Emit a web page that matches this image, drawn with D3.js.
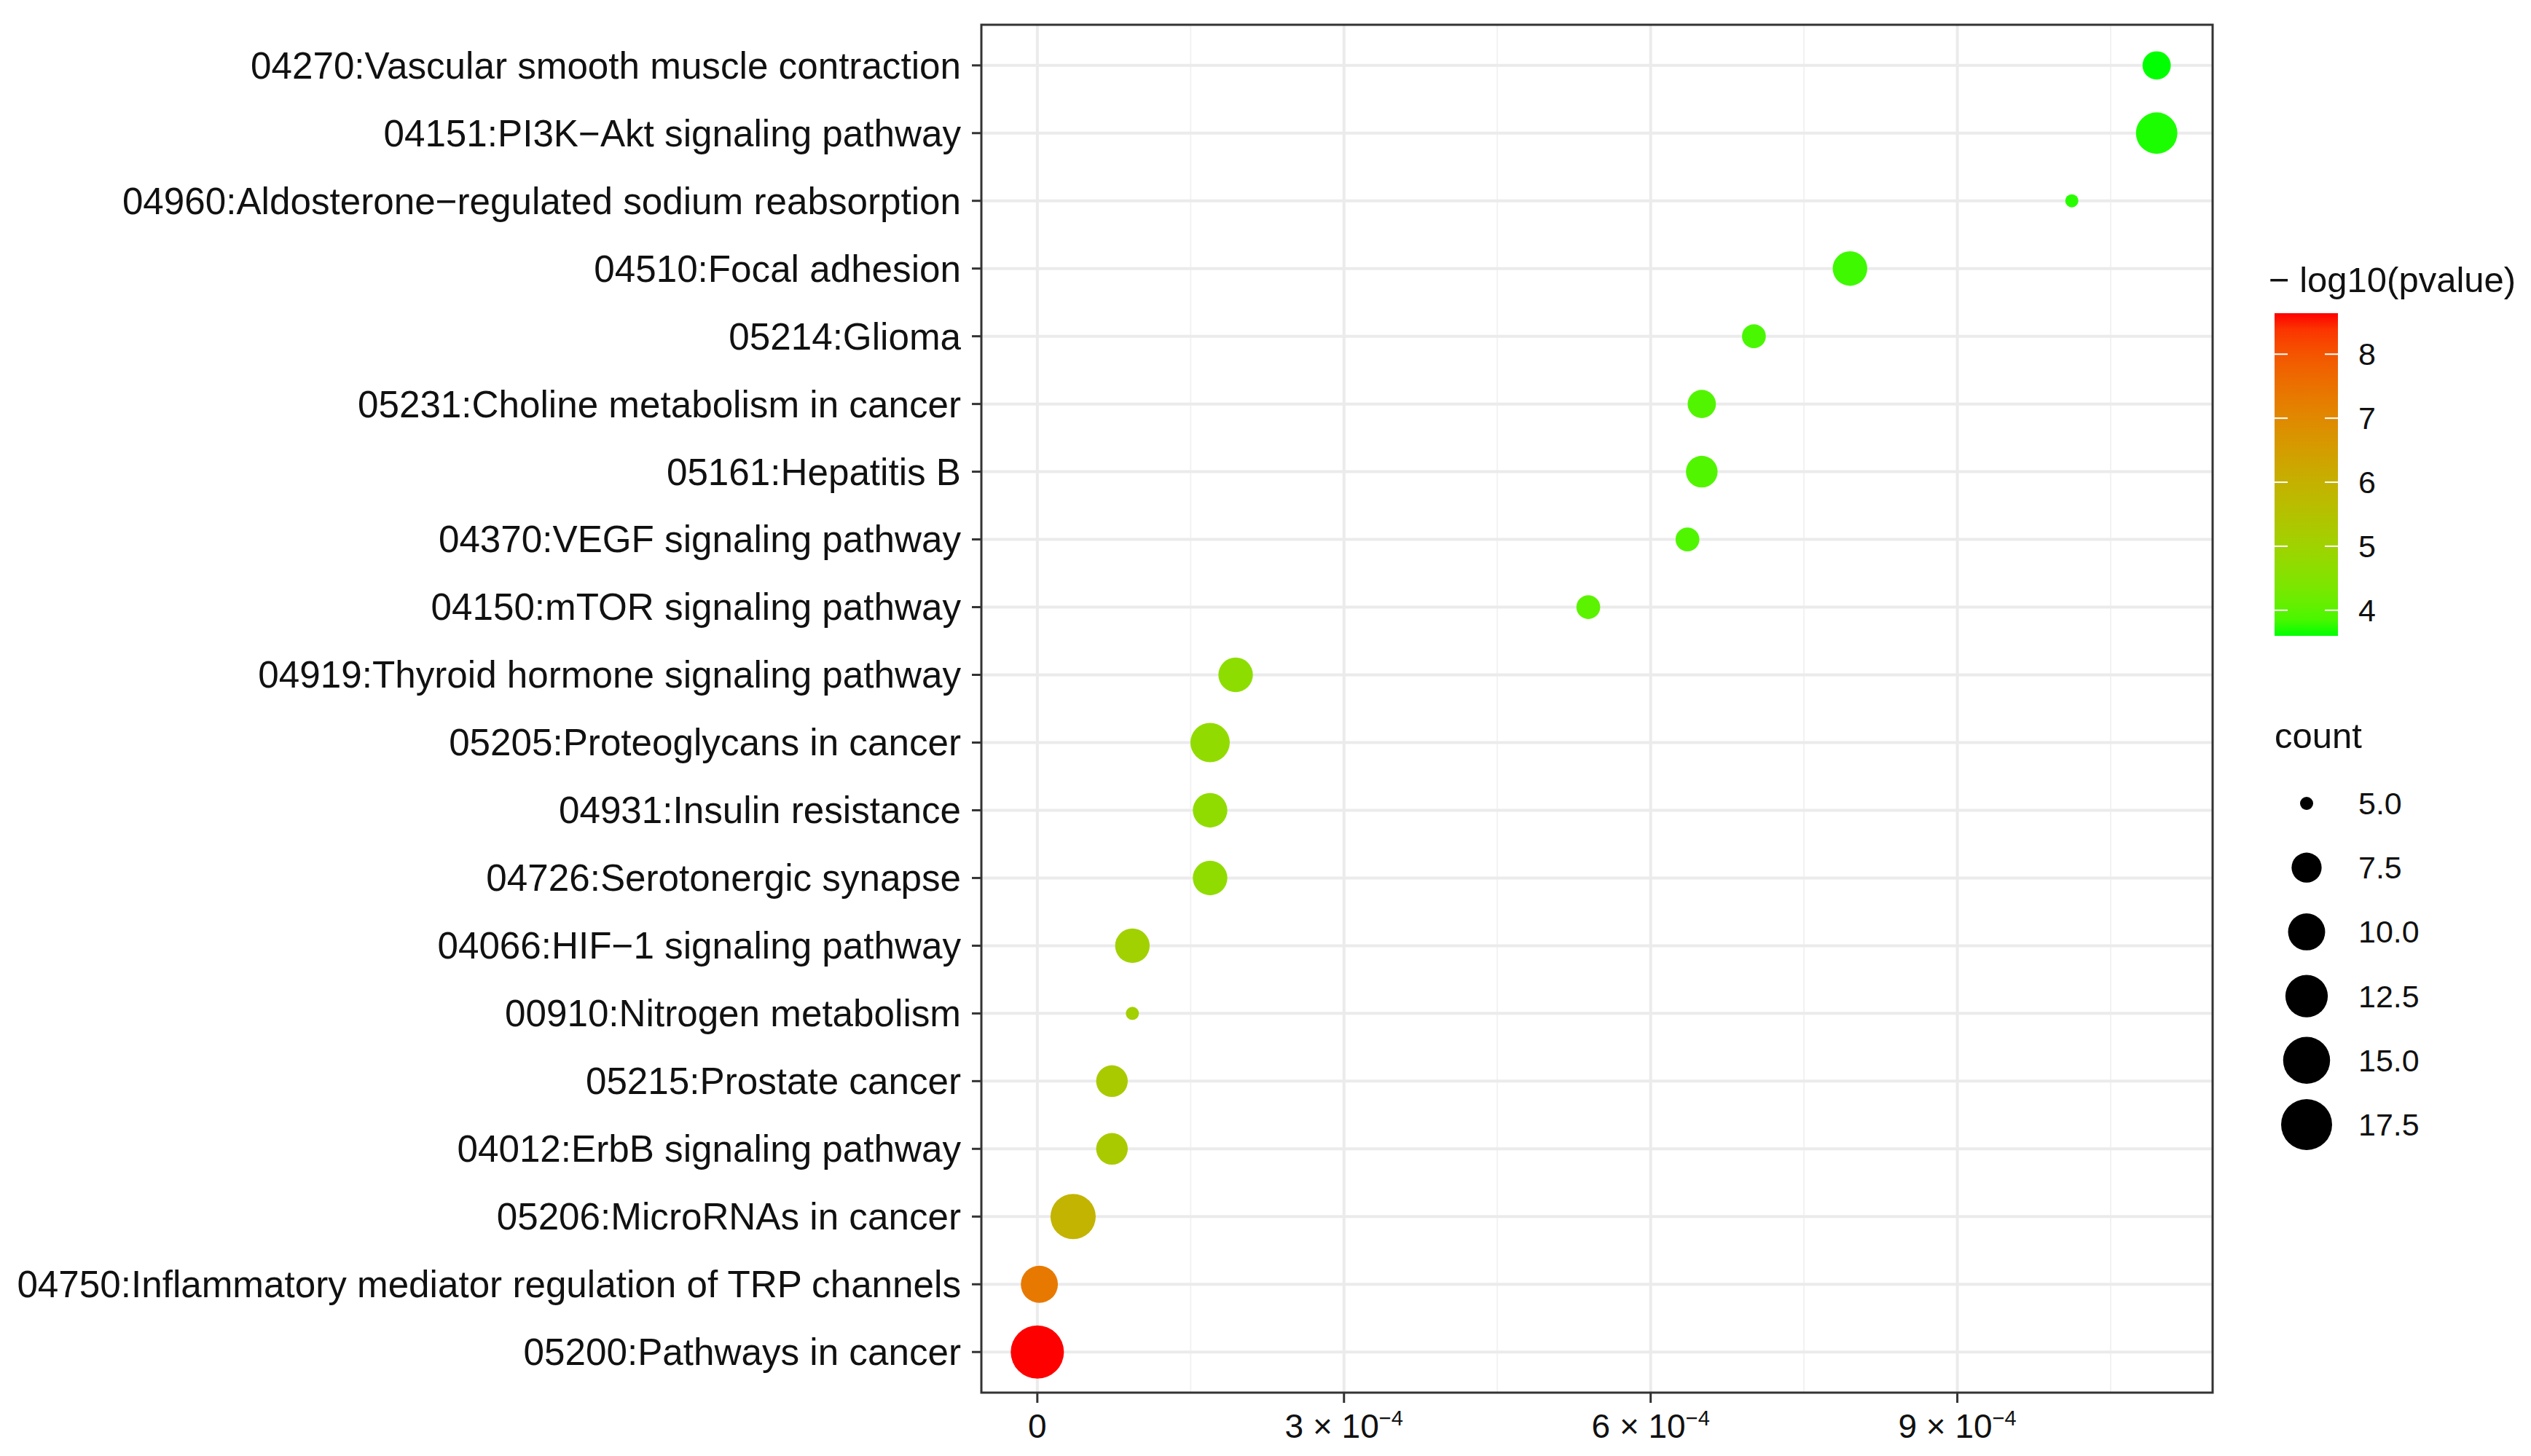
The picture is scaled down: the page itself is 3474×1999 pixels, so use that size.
<!DOCTYPE html>
<html>
<head>
<meta charset="utf-8">
<script src="https://cdn.jsdelivr.net/npm/d3@7"></script>
<style>
  body { margin: 0; background: #fff; }
  svg { display: block; }
</style>
</head>
<body>
<svg id="chart"></svg>
<script>
// KEGG pathways, top to bottom
const pathways = [
    "04270:Vascular smooth muscle contraction",
    "04151:PI3K\u2212Akt signaling pathway",
    "04960:Aldosterone\u2212regulated sodium reabsorption",
    "04510:Focal adhesion",
    "05214:Glioma",
    "05231:Choline metabolism in cancer",
    "05161:Hepatitis B",
    "04370:VEGF signaling pathway",
    "04150:mTOR signaling pathway",
    "04919:Thyroid hormone signaling pathway",
    "05205:Proteoglycans in cancer",
    "04931:Insulin resistance",
    "04726:Serotonergic synapse",
    "04066:HIF\u22121 signaling pathway",
    "00910:Nitrogen metabolism",
    "05215:Prostate cancer",
    "04012:ErbB signaling pathway",
    "05206:MicroRNAs in cancer",
    "04750:Inflammatory mediator regulation of TRP channels",
    "05200:Pathways in cancer"
];
const ratio = [10.95e-4, 10.95e-4, 10.12e-4, 7.95e-4, 7.01e-4, 6.50e-4, 6.50e-4, 6.36e-4, 5.39e-4,
               1.94e-4, 1.69e-4, 1.69e-4, 1.69e-4, 0.93e-4, 0.93e-4, 0.73e-4, 0.73e-4, 0.35e-4, 0.02e-4, 0];
const counts = [7, 12, 5, 9, 6, 7, 8, 6, 6, 9, 11, 9, 9, 9, 5, 8, 8, 14, 10, 19];
const logP = [3.60, 3.64, 3.68, 3.78, 3.85, 3.92, 3.92, 3.90, 4.00,
              4.66, 4.75, 4.72, 4.72, 5.06, 5.08, 5.26, 5.26, 5.90, 7.35, 8.64];

const xTicks = [0, 3e-4, 6e-4, 9e-4];
const xTickBase = ["0", "3 \u00d7 10", "6 \u00d7 10", "9 \u00d7 10"];
const xTickExp = ["", "\u22124", "\u22124", "\u22124"];
const xMinor = [1.5e-4, 4.5e-4, 7.5e-4, 10.5e-4];
const colorTicks = [4, 5, 6, 7, 8];
const sizeTicks = [5.0, 7.5, 10.0, 12.5, 15.0, 17.5];

const width = 3474, height = 1999;
const panel = { left: 1347, right: 3037, top: 34, bottom: 1912 };
const font = "'Liberation Sans', Arial, Helvetica, sans-serif";

const data = pathways.map((p, i) => ({ name: p, x: ratio[i], count: counts[i], p: logP[i] }));

const svg = d3.select("#chart")
    .attr("width", width)
    .attr("height", height)
    .attr("viewBox", `0 0 ${width} ${height}`)
    .style("font-family", font);

svg.append("rect").attr("width", width).attr("height", height).attr("fill", "#fff");

// scales (ggplot style expansion: 5% continuous, 0.6 discrete)
const xExt = d3.extent(ratio);
const pad = (xExt[1] - xExt[0]) * 0.05;
const xScale = d3.scaleLinear()
    .domain([xExt[0] - pad, xExt[1] + pad])
    .range([panel.left, panel.right]);

const yScale = d3.scalePoint()
    .domain(pathways)
    .range([panel.top, panel.bottom])
    .padding(0.6);

const colorScale = d3.scaleLinear()
    .domain(d3.extent(logP))
    .range(["#00ff00", "#ff0000"])
    .interpolate(d3.interpolateLab);

const sizeNorm = d3.scaleLinear().domain(d3.extent(counts)).range([0, 1]);
const radius = d3.scaleSqrt().domain([0, 1]).range([9, 36.5]);
const r = v => radius(Math.max(0, sizeNorm(v)));

// grid
const grid = svg.append("g");
grid.selectAll(".minor").data(xMinor).enter().append("line")
    .attr("x1", d => xScale(d)).attr("x2", d => xScale(d))
    .attr("y1", panel.top).attr("y2", panel.bottom)
    .attr("stroke", "#f2f2f2").attr("stroke-width", 2);
grid.selectAll(".majorx").data(xTicks).enter().append("line")
    .attr("x1", d => xScale(d)).attr("x2", d => xScale(d))
    .attr("y1", panel.top).attr("y2", panel.bottom)
    .attr("stroke", "#ebebeb").attr("stroke-width", 4);
grid.selectAll(".majory").data(pathways).enter().append("line")
    .attr("x1", panel.left).attr("x2", panel.right)
    .attr("y1", d => yScale(d)).attr("y2", d => yScale(d))
    .attr("stroke", "#ebebeb").attr("stroke-width", 4);

// points
svg.append("g").selectAll("circle")
    .data(data)
    .enter()
    .append("circle")
    .attr("cx", d => xScale(d.x))
    .attr("cy", d => yScale(d.name))
    .attr("r", d => r(d.count))
    .attr("fill", d => colorScale(d.p));

// panel border
svg.append("rect")
    .attr("x", panel.left).attr("y", panel.top)
    .attr("width", panel.right - panel.left)
    .attr("height", panel.bottom - panel.top)
    .attr("fill", "none")
    .attr("stroke", "#333")
    .attr("stroke-width", 3);

// y axis
const yAxis = svg.append("g");
pathways.forEach(p => {
    const y = yScale(p);
    yAxis.append("line")
        .attr("x1", panel.left - 13).attr("x2", panel.left)
        .attr("y1", y).attr("y2", y)
        .attr("stroke", "#333").attr("stroke-width", 3);
    yAxis.append("text")
        .attr("x", panel.left - 28)
        .attr("y", y)
        .attr("dy", "0.35em")
        .attr("text-anchor", "end")
        .attr("font-size", "51.2px")
        .attr("fill", "#111")
        .text(p);
});

// x axis
const xAxis = svg.append("g");
xTicks.forEach((t, i) => {
    const x = xScale(t);
    xAxis.append("line")
        .attr("x1", x).attr("x2", x)
        .attr("y1", panel.bottom).attr("y2", panel.bottom + 14)
        .attr("stroke", "#333").attr("stroke-width", 3);
    const label = xAxis.append("text")
        .attr("x", x)
        .attr("y", panel.bottom + 62)
        .attr("text-anchor", "middle")
        .attr("font-size", "46px")
        .attr("fill", "#111");
    label.append("tspan").text(xTickBase[i]);
    if (xTickExp[i]) {
        label.append("tspan")
            .attr("dy", "-0.6em")
            .attr("font-size", "29px")
            .text(xTickExp[i]);
    }
});

// colour legend
const cbar = { x: 3122, y: 430, w: 87, h: 443 };
const legend = svg.append("g");
legend.append("text")
    .attr("x", 3114).attr("y", 401)
    .attr("font-size", "49px")
    .attr("fill", "#111")
    .text("\u2212 log10(pvalue)");

const grad = svg.append("defs").append("linearGradient")
    .attr("id", "pgrad")
    .attr("x1", 0).attr("y1", 1).attr("x2", 0).attr("y2", 0);
const cDom = colorScale.domain();
d3.range(0, 1.0001, 0.05).forEach(t => {
    grad.append("stop")
        .attr("offset", t)
        .attr("stop-color", colorScale(cDom[0] + t * (cDom[1] - cDom[0])));
});
legend.append("rect")
    .attr("x", cbar.x).attr("y", cbar.y)
    .attr("width", cbar.w).attr("height", cbar.h)
    .attr("fill", "url(#pgrad)");

const cy = d3.scaleLinear().domain(cDom).range([cbar.y + cbar.h, cbar.y]);
colorTicks.forEach(t => {
    const y = cy(t);
    legend.append("line")
        .attr("x1", cbar.x).attr("x2", cbar.x + 18)
        .attr("y1", y).attr("y2", y)
        .attr("stroke", "#fff").attr("stroke-width", 2);
    legend.append("line")
        .attr("x1", cbar.x + cbar.w - 18).attr("x2", cbar.x + cbar.w)
        .attr("y1", y).attr("y2", y)
        .attr("stroke", "#fff").attr("stroke-width", 2);
    legend.append("text")
        .attr("x", 3237).attr("y", y)
        .attr("dy", "0.35em")
        .attr("font-size", "43px")
        .attr("fill", "#111")
        .text(t);
});

// size legend
legend.append("text")
    .attr("x", 3122).attr("y", 1027)
    .attr("font-size", "49px")
    .attr("fill", "#111")
    .text("count");

const sy = d3.scalePoint().domain(sizeTicks).range([1103, 1544]);
sizeTicks.forEach(s => {
    legend.append("circle")
        .attr("cx", 3166).attr("cy", sy(s))
        .attr("r", r(s))
        .attr("fill", "#000");
    legend.append("text")
        .attr("x", 3237).attr("y", sy(s))
        .attr("dy", "0.35em")
        .attr("font-size", "43px")
        .attr("fill", "#111")
        .text(d3.format(".1f")(s));
});
</script>
</body>
</html>
